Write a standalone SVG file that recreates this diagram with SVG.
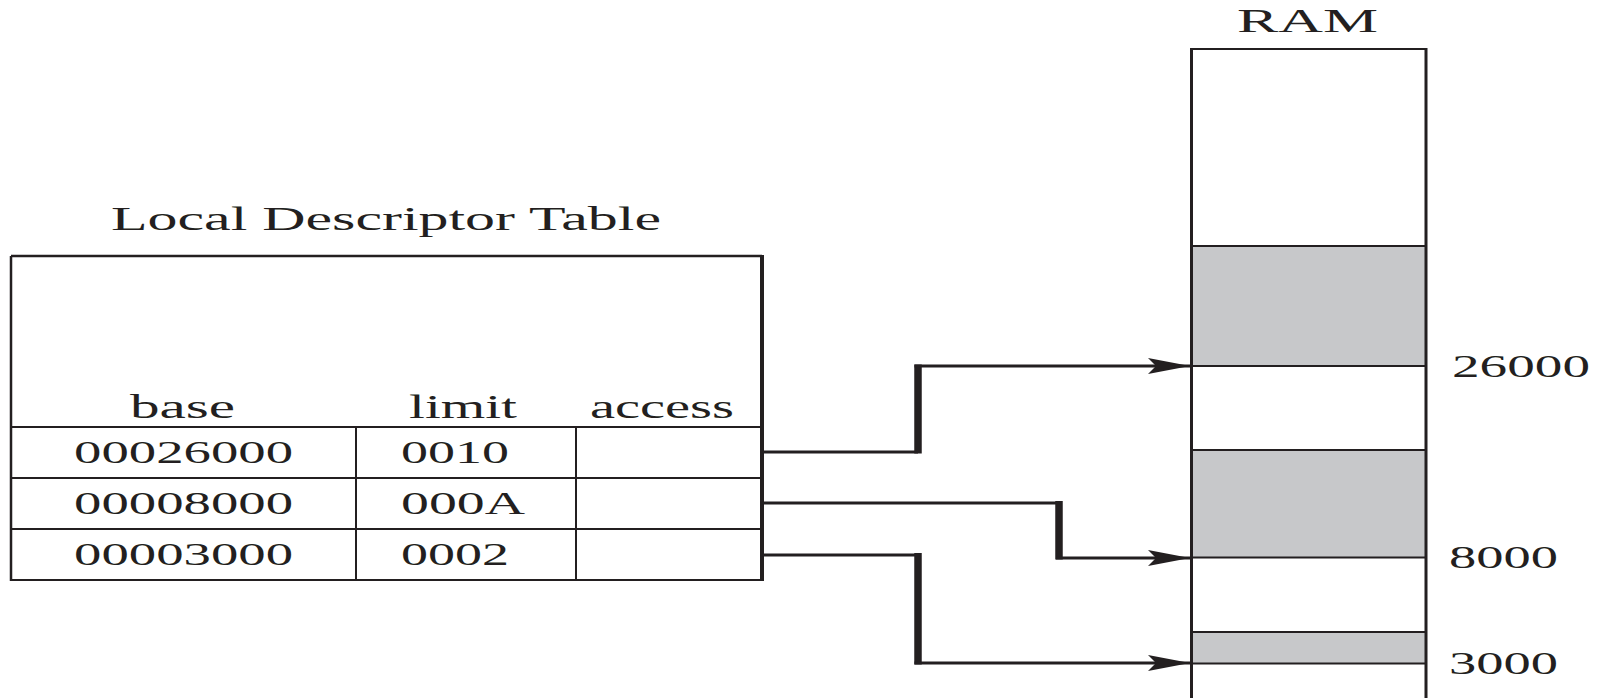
<svg xmlns="http://www.w3.org/2000/svg" width="1608" height="698" viewBox="0 0 1608 698">
<style>
  .t { font-family: "Liberation Serif", "Times New Roman", serif; fill: #231f20; font-size: 33px; }
  .d { font-size: 32px; }
  .ln { stroke: #231f20; fill: none; }
  .thin { stroke-width: 2; }
  .outer { stroke-width: 2.5; }
  .seg { fill: #c7c8ca; stroke: none; }
  .h { stroke: #231f20; stroke-width: 3; fill: none; }
  .v { stroke: #231f20; stroke-width: 7.5; fill: none; }
</style>
<defs>
  <marker id="arr" markerUnits="userSpaceOnUse" markerWidth="44" markerHeight="18" viewBox="0 0 44 18" refX="42" refY="9" orient="auto">
    <path d="M0,1 L42,9 L0,17 L8,9 Z" fill="#231f20"/>
  </marker>
</defs>
<rect width="1608" height="698" fill="#ffffff"/>

<g id="ldt">
  <text class="t" x="111" y="230" textLength="550" lengthAdjust="spacingAndGlyphs">Local Descriptor Table</text>
  <line class="ln outer" x1="11" y1="256" x2="762" y2="256"/>
  <line class="ln outer" x1="11" y1="256" x2="11" y2="581"/>
  <line class="ln" stroke-width="4" x1="762" y1="255" x2="762" y2="581"/>
  <line class="ln thin" x1="11" y1="427" x2="762" y2="427"/>
  <line class="ln thin" x1="11" y1="478" x2="762" y2="478"/>
  <line class="ln thin" x1="11" y1="529" x2="762" y2="529"/>
  <line class="ln thin" x1="11" y1="580" x2="762" y2="580"/>
  <line class="ln thin" x1="356" y1="427" x2="356" y2="580"/>
  <line class="ln thin" x1="576" y1="427" x2="576" y2="580"/>
  <text class="t" x="130" y="418" textLength="105" lengthAdjust="spacingAndGlyphs">base</text>
  <text class="t" x="409" y="418" textLength="108" lengthAdjust="spacingAndGlyphs">limit</text>
  <text class="t" x="590" y="418" textLength="144" lengthAdjust="spacingAndGlyphs">access</text>
</g>

<g id="row1">
  <text class="t d" x="74" y="463" textLength="219" lengthAdjust="spacingAndGlyphs">00026000</text>
  <text class="t d" x="401" y="463" textLength="108" lengthAdjust="spacingAndGlyphs">0010</text>
</g>
<g id="row2">
  <text class="t d" x="74" y="514" textLength="219" lengthAdjust="spacingAndGlyphs">00008000</text>
  <text class="t d" x="401" y="514" textLength="124" lengthAdjust="spacingAndGlyphs">000A</text>
</g>
<g id="row3">
  <text class="t d" x="74" y="565" textLength="219" lengthAdjust="spacingAndGlyphs">00003000</text>
  <text class="t d" x="401" y="565" textLength="108" lengthAdjust="spacingAndGlyphs">0002</text>
</g>

<g id="ram">
  <text class="t" x="1237" y="32" textLength="141" lengthAdjust="spacingAndGlyphs">RAM</text>
  <rect class="seg" x="1191.5" y="246" width="234.5" height="120"/>
  <rect class="seg" x="1191.5" y="450" width="234.5" height="107"/>
  <rect class="seg" x="1191.5" y="632" width="234.5" height="31"/>
  <line class="ln thin" x1="1191.5" y1="49" x2="1426" y2="49"/>
  <line class="ln thin" x1="1191.5" y1="246" x2="1426" y2="246"/>
  <line class="ln thin" x1="1191.5" y1="366" x2="1426" y2="366"/>
  <line class="ln thin" x1="1191.5" y1="450" x2="1426" y2="450"/>
  <line class="ln thin" x1="1191.5" y1="557.5" x2="1426" y2="557.5"/>
  <line class="ln thin" x1="1191.5" y1="632" x2="1426" y2="632"/>
  <line class="ln thin" x1="1191.5" y1="663.5" x2="1426" y2="663.5"/>
  <line class="ln" stroke-width="3" x1="1191.5" y1="48" x2="1191.5" y2="698"/>
  <line class="ln" stroke-width="3" x1="1426" y1="48" x2="1426" y2="698"/>
</g>

<g id="addr-labels">
  <text class="t d" x="1452" y="377" textLength="138" lengthAdjust="spacingAndGlyphs">26000</text>
  <text class="t d" x="1449" y="568" textLength="109" lengthAdjust="spacingAndGlyphs">8000</text>
  <text class="t d" x="1449" y="674" textLength="109" lengthAdjust="spacingAndGlyphs">3000</text>
</g>

<g id="connectors">
  <line class="h" x1="762" y1="452" x2="918" y2="452"/>
  <line class="v" x1="918" y1="453.5" x2="918" y2="364.5"/>
  <line class="h" x1="914.5" y1="366" x2="1190" y2="366" marker-end="url(#arr)"/>

  <line class="h" x1="762" y1="503" x2="1059" y2="503" stroke-width="4"/>
  <line class="v" x1="1059" y1="501" x2="1059" y2="559.5" stroke-width="6.5"/>
  <line class="h" x1="1056" y1="558" x2="1190" y2="558" marker-end="url(#arr)"/>

  <line class="h" x1="762" y1="555" x2="918" y2="555" stroke-width="4"/>
  <line class="v" x1="918" y1="553" x2="918" y2="664.5"/>
  <line class="h" x1="914.5" y1="663" x2="1190" y2="663" marker-end="url(#arr)"/>
</g>
</svg>
